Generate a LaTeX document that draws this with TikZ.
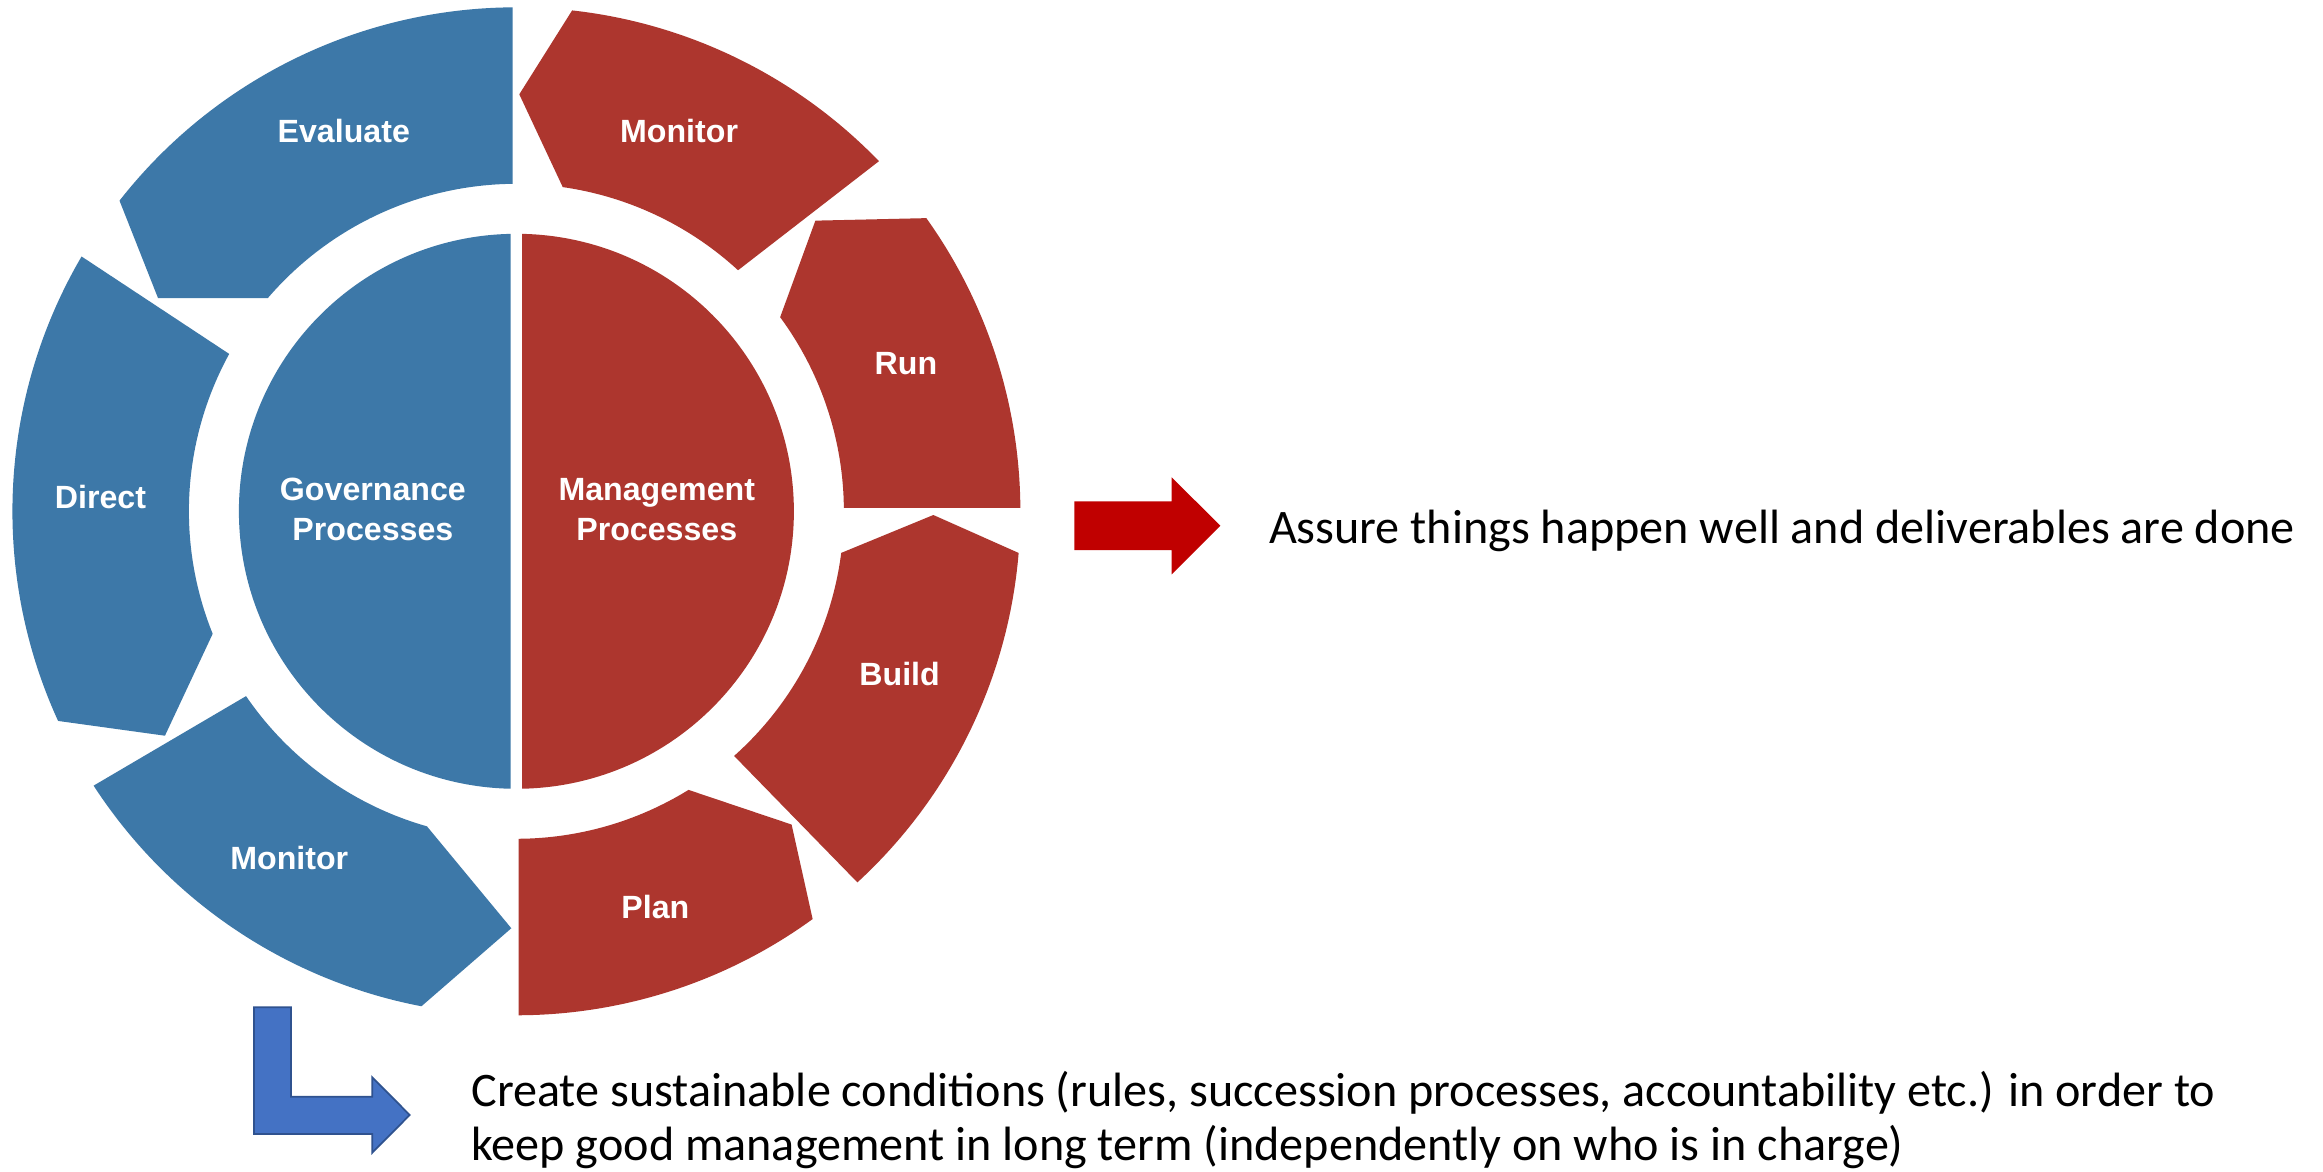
\documentclass[tikz,border=0pt]{standalone}
\usepackage{fontspec}
\setmainfont{Liberation Sans}
\newfontfamily\notefont{Carlito}
\usepackage{xcolor}
\usetikzlibrary{positioning}
\definecolor{govblue}{RGB}{61,120,168}
\definecolor{mgmtred}{RGB}{173,54,46}
\definecolor{arrowred}{RGB}{192,0,0}
\definecolor{arrowblue}{RGB}{68,114,196}
\definecolor{arrowline}{RGB}{47,82,143}
\newcommand{\ringin}{3.275}
\newcommand{\ringout}{5.04}
\newcommand{\ringmid}{4.17}
\tikzset{
    seglabel/.style={text=white, font=\fontsize{9.15}{11.2}\selectfont\bfseries, align=center, inner sep=0pt}, % white bold words on the ring
    remark/.style={font=\notefont\fontsize{13.7}{15.4}\selectfont, anchor=base west, inner sep=0pt, align=left}, % black text right of the arrows
    blockarrow/.style={line width=0.5pt, line join=miter}, % the two fat arrows
}

\begin{document}
\begin{tikzpicture}
    \fill[white] (-5.164,-6.607) rectangle (18.066,5.113);

    % inner disk, cut in two halves
    \fill[govblue] (91.18:2.775) arc[start angle=91.18, end angle=268.82, radius=2.775] -- cycle;
    \fill[mgmtred] (-88.82:2.775) arc[start angle=-88.82, end angle=88.82, radius=2.775] -- cycle;

    % ring parts: colour / tail outer / tail inner / head outer / head tip / head inner
    \foreach \col/\ta/\tb/\ha/\hp/\hb in {
        govblue/90.44/90.68/141.95/149.25/139.4,
        govblue/149.63/151.28/204.58/212.56/201.97,
        govblue/212.98/214.36/259.14/269.3/254.15,
        mgmtred/-89.75/-89.6/-54.0/-48.7/-58.29,
        mgmtred/-47.42/-48.33/-4.74/-0.51/-7.3,
        mgmtred/0.39/0.6/35.57/44.19/36.35,
        mgmtred/44.0/47.4/83.65/89.6/81.86}
        \fill[\col] (\ta:\ringout) arc[start angle=\ta, end angle=\ha, radius=\ringout]
            -- (\hp:\ringmid) -- (\hb:\ringin)
            arc[start angle=\hb, end angle=\tb, radius=\ringin] -- cycle;

    \node[seglabel] (evaluate) at (-1.726,3.806) {Evaluate};
    \node[seglabel] (direct) at (-4.159,0.145) {Direct};
    \node[seglabel] (gmonitor) at (-2.271,-3.464) {Monitor};
    \node[seglabel] (plan) at (1.39,-3.953) {Plan};
    \node[seglabel] (build) at (3.832,-1.628) {Build};
    \node[seglabel] (run) at (3.895,1.474) {Run};
    \node[seglabel] (mmonitor) at (1.627,3.806) {Monitor};
    \node[seglabel] (gov) at (-1.435,0.018) {Governance\\Processes};
    \node[seglabel] (mgmt) at (1.404,0.018) {Management\\Processes};

    % arrows to the remarks
    \fill[arrowred, blockarrow] (5.579,0.10) -- (6.553,0.10) -- (6.553,0.34) -- (7.039,-0.144)
        -- (6.553,-0.63) -- (6.553,-0.387) -- (5.579,-0.387) -- cycle;
    \filldraw[fill=arrowblue, draw=arrowline, blockarrow] (-2.624,-4.96) -- (-2.254,-4.96) -- (-2.254,-5.854)
        -- (-1.441,-5.854) -- (-1.441,-5.66) -- (-1.067,-6.037) -- (-1.441,-6.414)
        -- (-1.441,-6.227) -- (-2.624,-6.227) -- cycle;

    \node[remark] (assure) at (7.519,-0.327) {Assure things happen well and deliverables are done};
    \node[remark] (create) at (-0.457,-6.494)
        {Create sustainable conditions (rules, succession processes, accountability etc.) in order to\\
         keep good management in long term (independently on who is in charge)};

    % arcs push the box out with their control points
    \pgfresetboundingbox
    \useasboundingbox (-5.164,-6.607) rectangle (18.066,5.113);
\end{tikzpicture}
\end{document}
